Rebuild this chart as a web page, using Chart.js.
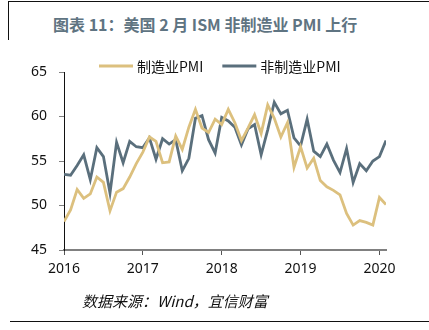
<!DOCTYPE html>
<html>
<head>
<meta charset="utf-8">
<script src="https://cdn.jsdelivr.net/npm/chart.js@4.4.1/dist/chart.umd.min.js"></script>
<style>
  body { margin: 0; background: #fff; }
  #wrap { position: relative; width: 429px; height: 330px; overflow: hidden; font-family: "Noto Sans CJK SC", sans-serif; }
  #pmiChart { position: absolute; left: 0; top: 0; }
  .rule-top { position: absolute; left: 8px; top: 1px; width: 421px; border-top: 1.5px solid #111; }
  .rule-left { position: absolute; left: 8px; top: 1px; height: 39px; border-left: 1.5px solid #111; }
  .rule-bottom { position: absolute; left: 10px; top: 321px; width: 419px; border-top: 1.5px solid #111; }
  .title { position: absolute; left: 53px; top: 12px; font-size: 16px; font-weight: bold; color: #5f7482; white-space: nowrap; }
  .source { position: absolute; left: 82px; top: 290px; font-size: 15px; font-style: italic; color: #111; white-space: nowrap; }
</style>
</head>
<body>
<div id="wrap">
  <div class="rule-top"></div>
  <div class="rule-left"></div>
  <div class="title">图表 11：美国 2 月 ISM 非制造业 PMI 上行</div>
  <canvas id="pmiChart" width="429" height="330"></canvas>
  <div class="source">数据来源：Wind，宜信财富</div>
  <div class="rule-bottom"></div>
</div>
<script>
// monthly readings, Jan 2016 .. Feb 2020
const manufacturing = [
  48.2, 49.5, 51.8, 50.8, 51.3, 53.2, 52.6, 49.4, 51.5, 51.9, 53.2, 54.7,
  56.0, 57.7, 57.2, 54.8, 54.9, 57.8, 56.3, 58.8, 60.8, 58.7, 58.2, 59.7,
  59.1, 60.8, 59.3, 57.3, 58.7, 60.2, 58.1, 61.3, 59.8, 57.7, 59.3, 54.3,
  56.6, 54.2, 55.3, 52.8, 52.1, 51.7, 51.2, 49.1, 47.8, 48.3, 48.1, 47.8,
  50.9, 50.1
];
const nonManufacturing = [
  53.5, 53.4, 54.5, 55.7, 52.9, 56.5, 55.5, 51.4, 57.1, 54.8, 57.2, 56.6,
  56.5, 57.6, 55.2, 57.5, 56.9, 57.4, 53.9, 55.3, 59.8, 60.1, 57.4, 55.9,
  59.9, 59.5, 58.8, 56.8, 58.6, 59.1, 55.7, 58.5, 61.6, 60.3, 60.7, 57.6,
  56.7, 59.7, 56.1, 55.5, 56.9, 55.1, 53.7, 56.4, 52.6, 54.7, 53.9, 55.0,
  55.5, 57.3
];
const seriesNames = ['制造业PMI', '非制造业PMI'];
const yearLabels = ['2016', '2017', '2018', '2019', '2020'];
const yearTicks = [0, 12, 24, 36, 48];   // month offsets of each January
const yTicks = [45, 50, 55, 60, 65];

const toPoints = arr => arr.map((v, i) => ({ x: i, y: v }));

// line-style legend drawn above the plot
const lineLegend = {
  id: 'lineLegend',
  afterDraw(chart) {
    const ctx = chart.ctx;
    const y = 66;
    let x = 99;
    ctx.save();
    ctx.font = '14px "Noto Sans CJK SC"';
    ctx.textBaseline = 'middle';
    chart.data.datasets.forEach(ds => {
      ctx.strokeStyle = ds.borderColor;
      ctx.lineWidth = 3;
      ctx.beginPath();
      ctx.moveTo(x, y);
      ctx.lineTo(x + 34, y);
      ctx.stroke();
      ctx.fillStyle = '#111';
      ctx.fillText(ds.label, x + 38, y + 1);
      x += 38 + ctx.measureText(ds.label).width + 19;
    });
    ctx.restore();
  }
};

new Chart(document.getElementById('pmiChart'), {
  type: 'line',
  data: {
    datasets: [
      { label: seriesNames[0], data: toPoints(manufacturing), borderColor: '#dcc07e', borderWidth: 2.8, pointRadius: 0, tension: 0 },
      { label: seriesNames[1], data: toPoints(nonManufacturing), borderColor: '#5a6f7c', borderWidth: 2.8, pointRadius: 0, tension: 0 }
    ]
  },
  options: {
    responsive: false,
    animation: false,
    layout: { padding: { left: 0, right: 43, top: 72, bottom: 30 } },
    plugins: { legend: { display: false }, tooltip: { enabled: false } },
    scales: {
      x: {
        type: 'linear',
        min: 0,
        max: manufacturing.length - 1,
        afterBuildTicks: s => { s.ticks = yearTicks.map(v => ({ value: v })); },
        afterFit: s => { s.height = 50; },
        ticks: {
          autoSkip: false,
          maxRotation: 0,
          padding: 6,
          color: '#111',
          font: { family: 'Noto Sans', size: 14 },
          callback: v => yearLabels[yearTicks.indexOf(v)]
        },
        grid: { drawOnChartArea: false, tickLength: 5, color: '#555' },
        border: { color: '#808080', width: 2 }
      },
      y: {
        min: 45,
        max: 65,
        afterBuildTicks: s => { s.ticks = yTicks.map(v => ({ value: v })); },
        afterFit: s => { s.width = 64; },
        ticks: {
          padding: 12,
          color: '#111',
          font: { family: 'Noto Sans', size: 14 }
        },
        grid: { drawOnChartArea: false, tickLength: 5, color: '#808080' },
        border: { color: '#111', width: 1 }
      }
    }
  },
  plugins: [lineLegend]
});
</script>
</body>
</html>
